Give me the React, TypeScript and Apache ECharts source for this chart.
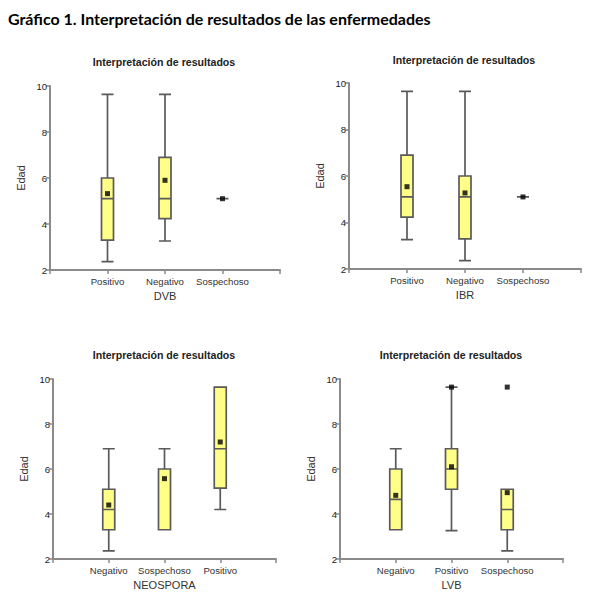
import React, { useEffect, useRef } from "react";
import * as echarts from "echarts";

const mainTitle = "Gráfico 1. Interpretación de resultados de las enfermedades";
const panelTitle = "Interpretación de resultados";
const yName = "Edad";
const yTicks = [2, 4, 6, 8, 10];

const dvbName = "DVB";
const dvbCategories = ["Positivo", "Negativo", "Sospechoso"];
const dvbBoxes = [
  [2.36, 3.3, 5.1, 6.0, 9.64],
  [3.26, 4.23, 5.1, 6.9, 9.64],
  [5.1, 5.1, 5.1, 5.1, 5.1],
];
const dvbMeans = [5.32, 5.9, 5.1];
const dvbOutliers: number[][] = [];

const ibrName = "IBR";
const ibrCategories = ["Positivo", "Negativo", "Sospechoso"];
const ibrBoxes = [
  [3.26, 4.23, 5.1, 6.9, 9.64],
  [2.36, 3.3, 5.1, 6.0, 9.64],
  [5.1, 5.1, 5.1, 5.1, 5.1],
];
const ibrMeans = [5.54, 5.27, 5.1];
const ibrOutliers: number[][] = [];

const neoName = "NEOSPORA";
const neoCategories = ["Negativo", "Sospechoso", "Positivo"];
const neoBoxes = [
  [2.36, 3.3, 4.2, 5.1, 6.9],
  [3.3, 3.3, 3.3, 6.0, 6.9],
  [4.2, 5.15, 6.9, 9.64, 9.64],
];
const neoMeans = [4.4, 5.57, 7.2];
const neoOutliers: number[][] = [];

const lvbName = "LVB";
const lvbCategories = ["Negativo", "Positivo", "Sospechoso"];
const lvbBoxes = [
  [3.3, 3.3, 4.65, 6.0, 6.9],
  [3.26, 5.1, 6.0, 6.9, 9.64],
  [2.36, 3.3, 4.2, 5.1, 5.1],
];
const lvbMeans = [4.83, 6.1, 4.95];
const lvbOutliers = [
  [2, 9.64],
  [3, 9.64],
];

const panels = [
  { name: dvbName, cats: dvbCategories, boxes: dvbBoxes, means: dvbMeans, outliers: dvbOutliers },
  { name: ibrName, cats: ibrCategories, boxes: ibrBoxes, means: ibrMeans, outliers: ibrOutliers },
  { name: neoName, cats: neoCategories, boxes: neoBoxes, means: neoMeans, outliers: neoOutliers },
  { name: lvbName, cats: lvbCategories, boxes: lvbBoxes, means: lvbMeans, outliers: lvbOutliers },
];

const grids = [
  { left: 50, top: 86, width: 230, height: 184 },
  { left: 349, top: 83, width: 232, height: 186 },
  { left: 53, top: 379, width: 223, height: 180 },
  { left: 340, top: 379, width: 223, height: 180 },
];
const titlePos = [
  [164, 62],
  [464, 60],
  [164, 355],
  [451, 355],
];

const FONT = "Liberation Sans";
const AXIS_COLOR = "#8a8a8a";

export default function App() {
  const ref = useRef<HTMLDivElement>(null);
  useEffect(() => {
    if (!ref.current) return;
    const chart = echarts.init(ref.current, undefined, { renderer: "svg" });
    const xAxis: any[] = [];
    const yAxis: any[] = [];
    const series: any[] = [];
    const graphic: any[] = [
      {
        type: "text",
        x: 8,
        y: 18,
        style: {
          text: mainTitle,
          fontFamily: "Lato",
          fontWeight: "bold",
          fontSize: 16,
          fill: "#000",
          textVerticalAlign: "middle",
        },
      },
    ];
    panels.forEach((p, i) => {
      xAxis.push({
        type: "value",
        gridIndex: i,
        min: 0,
        max: 4,
        interval: 1,
        name: p.name,
        nameLocation: "middle",
        nameGap: 20,
        nameTextStyle: { fontFamily: FONT, fontSize: 11, color: "#333" },
        axisLine: { show: true, lineStyle: { color: AXIS_COLOR, width: 2 } },
        axisTick: { show: true, length: 4, lineStyle: { color: AXIS_COLOR, width: 1.5 } },
        splitLine: { show: false },
        axisLabel: {
          margin: 6,
          fontFamily: FONT,
          fontSize: 9.6,
          color: "#333",
          formatter: (v: number) => p.cats[v - 1] ?? "",
        },
      });
      yAxis.push({
        type: "value",
        gridIndex: i,
        min: yTicks[0],
        max: yTicks[yTicks.length - 1],
        interval: 2,
        name: yName,
        nameLocation: "middle",
        nameGap: 24,
        nameRotate: 90,
        nameTextStyle: { fontFamily: FONT, fontSize: 11, color: "#3a2e2e" },
        axisLine: { show: true, lineStyle: { color: AXIS_COLOR, width: 2 } },
        axisTick: { show: true, length: 4, lineStyle: { color: AXIS_COLOR, width: 1.5 } },
        splitLine: { show: false },
        axisLabel: { margin: 3, fontFamily: FONT, fontSize: 9.5, color: "#222" },
      });
      series.push({
        type: "boxplot",
        xAxisIndex: i,
        yAxisIndex: i,
        layout: "horizontal",
        boxWidth: [12, 12],
        itemStyle: { color: "#ffff88", borderColor: "#5a5a5a", borderWidth: 1.7 },
        data: p.boxes.map((b, k) => [k + 1, ...b]),
        encode: { x: 0, y: [1, 2, 3, 4, 5] },
      });
      series.push({
        type: "scatter",
        xAxisIndex: i,
        yAxisIndex: i,
        symbol: "rect",
        symbolSize: 5,
        itemStyle: { color: "#000" },
        data: [...p.means.map((m, k) => [k + 1, m]), ...p.outliers],
        z: 5,
      });
      graphic.push({
        type: "text",
        x: titlePos[i][0],
        y: titlePos[i][1],
        style: {
          text: panelTitle,
          fontFamily: FONT,
          fontWeight: "bold",
          fontSize: 10.6,
          fill: "#222",
          textAlign: "center",
          textVerticalAlign: "middle",
        },
      });
    });
    chart.setOption({
      animation: false,
      backgroundColor: "#fff",
      grid: grids,
      xAxis,
      yAxis,
      series,
      graphic,
    });
    return () => chart.dispose();
  }, []);
  return (
    <div
      ref={ref}
      style={{ position: "fixed", left: 0, top: 0, width: 592, height: 608 }}
    />
  );
}
